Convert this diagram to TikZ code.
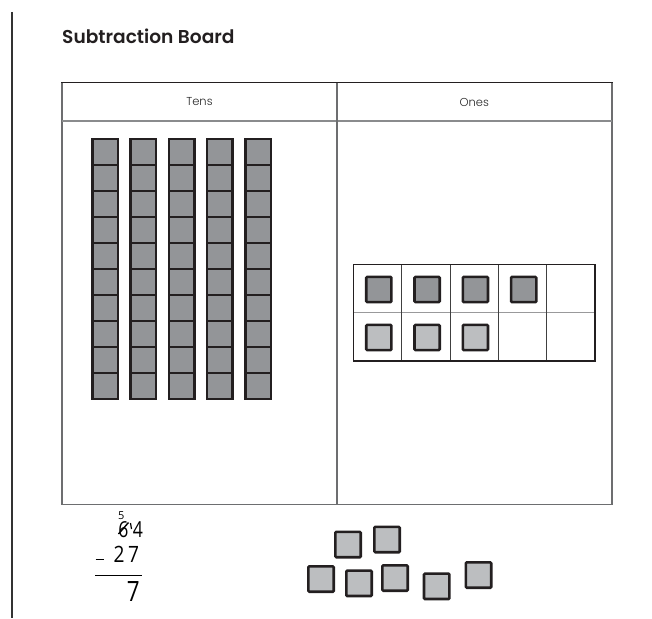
\documentclass[tikz,border=0pt]{standalone}
\usepackage{fontspec}
\setmainfont{Poppins}
\newfontfamily\titlefont{Poppins SemiBold}
\newfontfamily\lightfont{Poppins Light}
\newfontfamily\handfont{Open Sans}
\definecolor{roddark}{HTML}{939598}
\definecolor{unitlight}{HTML}{BCBEC0}
\definecolor{edge}{HTML}{231F20}
\definecolor{tableline}{HTML}{6D6E70}
\tikzset{
  rodunit/.style={draw=edge, fill=roddark, line width=2.6pt},
  darkcube/.style={draw=edge, fill=roddark, line width=2.6pt, rounded corners=1pt},
  lightcube/.style={draw=edge, fill=unitlight, line width=2.6pt, rounded corners=1pt},
  gridline/.style={draw=tableline, line width=1.2pt},
  hdr/.style={font=\lightfont\fontsize{11.5}{13}\selectfont, text=black!85},
  hand/.style={text=black, inner sep=0pt}
}
\begin{document}
\begin{tikzpicture}[x=1pt,y=-1pt]
\useasboundingbox (0,0) rectangle (652,618);
% left margin rule
\draw[draw=black!80, line width=1.2pt] (12,12) -- (12,618);
% title
\node[anchor=base west, inner sep=0pt, font=\titlefont\fontsize{18.6}{21}\selectfont, text=edge] (title) at (62,43.5) {Subtraction Board};
% table
\draw[gridline, line width=1.6pt] (62,82.5) -- (62,504.3) -- (611.7,504.3) -- (611.7,82.5);
\draw[draw=edge, line width=1.5pt] (61.2,82.5) -- (612.5,82.5);
\draw[draw=tableline!80, line width=2pt] (62,120.8) -- (611.7,120.8);
\draw[gridline] (337,82.5) -- (337,504.3);
\node[hdr] (tens) at (199.5,102) {Tens};
\node[hdr] (ones) at (474.3,102) {Ones};
% tens rods
\foreach \i in {0,...,4}{
  \foreach \j in {0,...,9}{
    \pgfmathsetmacro{\xc}{105+38.3*\i}
    \draw[rodunit] (\xc-12.8,139+26*\j) rectangle (\xc+12.8,139+26*\j+26);
  }
}
% ten frame
\draw[draw=tableline!70, line width=1pt] (353.5,312.5) -- (595,312.5);
\foreach \x in {401.8,450.1,498.4,546.7}{
  \draw[draw=black!75, line width=1pt] (\x,264.3) -- (\x,361);
}
\draw[draw=edge, line width=1.6pt] (353.5,264.3) rectangle (595,361);
\foreach \k in {0,...,3}{
  \pgfmathsetmacro{\xc}{378.8+48.3*\k}
  \draw[darkcube] (\xc-12.6,289.5-12.6) rectangle (\xc+12.6,289.5+12.6);
}
\foreach \k in {0,...,2}{
  \pgfmathsetmacro{\xc}{378.8+48.3*\k}
  \draw[lightcube] (\xc-12.6,337.5-12.6) rectangle (\xc+12.6,337.5+12.6);
}
% loose ones
\foreach \cx/\cy in {348/544.5, 387/539.5, 321/579, 359/583.3, 395/578, 436.7/586.3, 478.5/575}{
  \draw[lightcube] (\cx-12.7,\cy-12.7) rectangle (\cx+12.7,\cy+12.7);
}
% handwritten subtraction
\node[hand, font=\handfont\fontsize{11}{11}\selectfont] (five) at (121.3,515.3) {5};
\node[hand, font=\handfont\fontsize{22}{22}\selectfont, xscale=0.8] (six) at (123.5,529.5) {6};
\draw[line width=1.4pt] (118.5,534) -- (128.5,522.5);
\draw[line width=1.2pt] (130.5,523) -- (131.5,529);
\node[hand, font=\handfont\fontsize{22}{22}\selectfont, xscale=0.8] (four) at (138,530) {4};
\draw[line width=1.5pt] (95.5,559.5) -- (104,559.5);
\node[hand, font=\handfont\fontsize{22.5}{22.5}\selectfont, xscale=0.85] (two) at (119.2,554.2) {2};
\node[hand, font=\handfont\fontsize{22.5}{22.5}\selectfont, xscale=0.85] (seven) at (133.7,554.2) {7};
\draw[line width=1.6pt] (95,575.3) -- (141.7,575.3);
\node[hand, font=\handfont\fontsize{28}{28}\selectfont, xscale=0.8] (result) at (133.3,591.5) {7};
\end{tikzpicture}
\end{document}
